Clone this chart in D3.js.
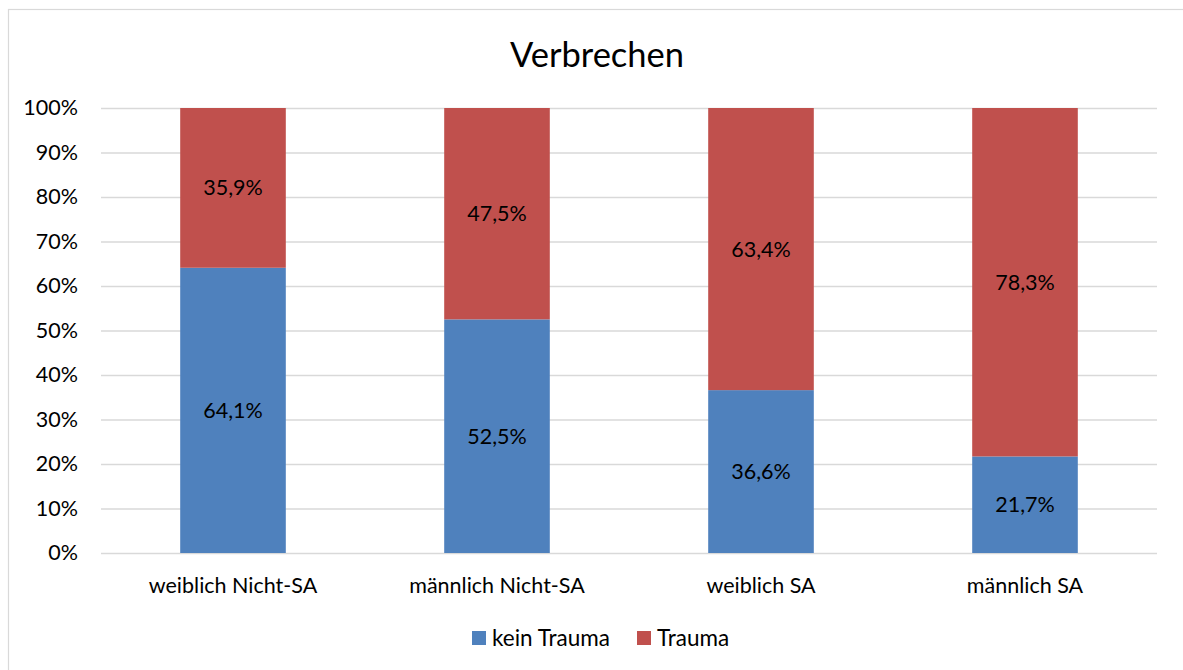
<!DOCTYPE html>
<html><head><meta charset="utf-8">
<script src="https://cdn.jsdelivr.net/npm/d3@7"></script>
<style>body{margin:0;background:#fff}svg{display:block}text{font-family:Lato,"Open Sans",sans-serif}</style>
</head><body><svg id="c" width="1183" height="670"></svg>
<script>
const categories = ["weiblich Nicht-SA", "männlich Nicht-SA", "weiblich SA", "männlich SA"];
const keinTrauma = [64.1, 52.5, 36.6, 21.7];
const trauma = [35.9, 47.5, 63.4, 78.3];
const seriesNames = ["kein Trauma", "Trauma"];
const seriesColors = ["#4f81bd", "#c0504d"];
const yTicks = [0, 10, 20, 30, 40, 50, 60, 70, 80, 90, 100];
const title = "Verbrechen";

const FS = 21.5;
const svg = d3.select("#c");
svg.append("rect").attr("x", 8.5).attr("y", 9.5).attr("width", 1200).attr("height", 700)
  .attr("fill", "#fff").attr("stroke", "#d9d9d9").attr("stroke-width", 1.2);

const L = 101, R = 1157, T = 108, B = 553;
const x = d3.scaleBand().domain(categories).range([L, R]).paddingInner(0.6).paddingOuter(0.3);
const y = d3.scaleLinear().domain([0, 100]).range([B, T]);

svg.append("text").attr("x", 597).attr("y", 67).attr("text-anchor", "middle")
  .attr("font-size", 34.5).attr("fill", "#000").text(title);

// gridlines
const yAxis = d3.axisLeft(y).tickValues(yTicks).tickSize(-(R - L)).tickFormat(d => d + "%");
const ga = svg.append("g").attr("transform", `translate(${L},0)`).call(yAxis);
ga.select(".domain").remove();
ga.selectAll(".tick line").attr("stroke", "#d9d9d9").attr("stroke-width", 1.5);
ga.selectAll(".tick text").attr("x", -23).attr("font-size", FS).attr("fill", "#000")
  .attr("font-family", 'Lato,"Open Sans",sans-serif');

const stackData = categories.map((c, i) => ({cat: c, "kein Trauma": keinTrauma[i], "Trauma": trauma[i]}));
const stack = d3.stack().keys(seriesNames)(stackData);
stack.forEach((s, si) => {
  const g = svg.append("g");
  g.selectAll("rect").data(s).join("rect")
    .attr("x", d => x(d.data.cat)).attr("width", x.bandwidth())
    .attr("y", d => y(d[1])).attr("height", d => y(d[0]) - y(d[1]))
    .attr("fill", seriesColors[si]);
  g.selectAll("text").data(s).join("text")
    .attr("x", d => x(d.data.cat) + x.bandwidth() / 2)
    .attr("y", d => (y(d[0]) + y(d[1])) / 2).attr("dy", "0.35em")
    .attr("text-anchor", "middle").attr("font-size", FS).attr("fill", "#000")
    .text(d => (d[1] - d[0]).toFixed(1).replace(".", ",") + "%");
});

// x axis
const xa = svg.append("g").attr("transform", `translate(0,${B})`).call(d3.axisBottom(x).tickSize(0));
xa.select(".domain").remove();
xa.selectAll(".tick text").attr("dy", 0).attr("y", 40).attr("font-size", FS).attr("fill", "#000")
  .attr("font-family", 'Lato,"Open Sans",sans-serif');

// legend
const legX = [472, 637];
seriesNames.forEach((n, i) => {
  svg.append("rect").attr("x", legX[i]).attr("y", 631).attr("width", 14).attr("height", 14).attr("fill", seriesColors[i]);
  svg.append("text").attr("x", legX[i] + 20).attr("y", 645.5).attr("font-size", 22.5).attr("fill", "#000").text(n);
});
</script></body></html>
